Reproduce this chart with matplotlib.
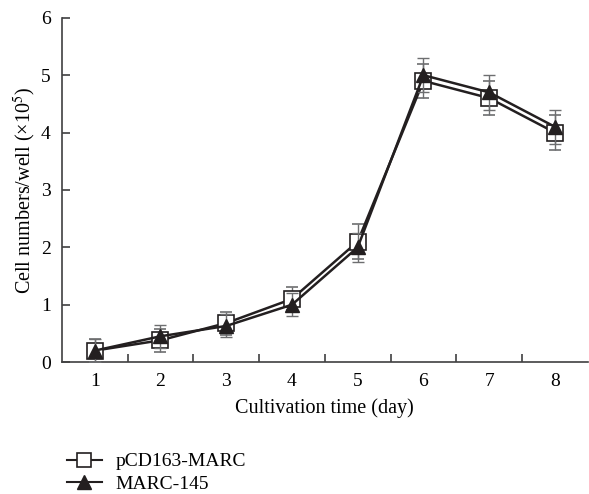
import matplotlib.pyplot as plt
from matplotlib.lines import Line2D

plt.rcParams['font.family'] = ['Liberation Serif', 'DejaVu Serif']
plt.rcParams['mathtext.fontset'] = 'stix'

days = [1, 2, 3, 4, 5, 6, 7, 8]
pcd163 = [0.2, 0.38, 0.68, 1.1, 2.1, 4.9, 4.6, 4.0]
pcd163_err = [0.2, 0.2, 0.2, 0.2, 0.3, 0.3, 0.3, 0.3]
marc145 = [0.2, 0.45, 0.63, 1.0, 2.0, 5.0, 4.7, 4.1]
marc145_err = [0.2, 0.2, 0.2, 0.2, 0.25, 0.3, 0.3, 0.3]

line_col = '#231f20'
err_col = '#6d6e70'

fig = plt.figure(figsize=(5.89, 4.94), dpi=100)
ax = fig.add_axes([0.105, 0.267, 0.893, 0.697])

ax.errorbar(days, pcd163, yerr=pcd163_err, color=line_col, lw=1.8,
            marker='s', ms=11, mfc='white', mec=line_col, mew=1.2,
            ecolor=err_col, elinewidth=1, capsize=4, capthick=1, zorder=3)
ax.errorbar(days, marc145, yerr=marc145_err, color=line_col, lw=1.8,
            marker='^', ms=10, mfc=line_col, mec=line_col,
            ecolor=err_col, elinewidth=1, capsize=4, capthick=1, zorder=4)

ax.set_xlim(0.5, 8.5)
ax.set_ylim(0, 6)
ax.set_xticks(days)
ax.set_xticks([d + 0.5 for d in days[:-1]], minor=True)
ax.tick_params(axis='x', which='major', length=0, labelsize=14, pad=8)
ax.tick_params(axis='x', which='minor', direction='in', length=6, width=1.2, color='#404041')
ax.tick_params(axis='y', direction='in', length=6, width=1.2, color='#404041', labelsize=14, pad=8)
ax.set_yticks(range(0, 7))

for s in ['top', 'right']:
    ax.spines[s].set_visible(False)
for s in ['left', 'bottom']:
    ax.spines[s].set_linewidth(1.2)
    ax.spines[s].set_color('#404041')

ax.set_xlabel('Cultivation time (day)', fontsize=14.5, labelpad=6)
ax.set_ylabel('Cell numbers/well (×10$^5$)', fontsize=14.5, labelpad=2)

handles = [
    Line2D([], [], color=line_col, lw=1.5, marker='s', ms=10, mfc='white', mec=line_col, mew=1.2),
    Line2D([], [], color=line_col, lw=1.5, marker='^', ms=10, mfc=line_col, mec=line_col),
]
fig.legend(handles, ['pCD163-MARC', 'MARC-145'], loc='center left',
           bbox_to_anchor=(0.1, 0.043), frameon=False, fontsize=14,
           handlelength=1.8, handletextpad=0.7, labelspacing=0.25, borderaxespad=0)
fig.savefig('out.png', dpi=100)
